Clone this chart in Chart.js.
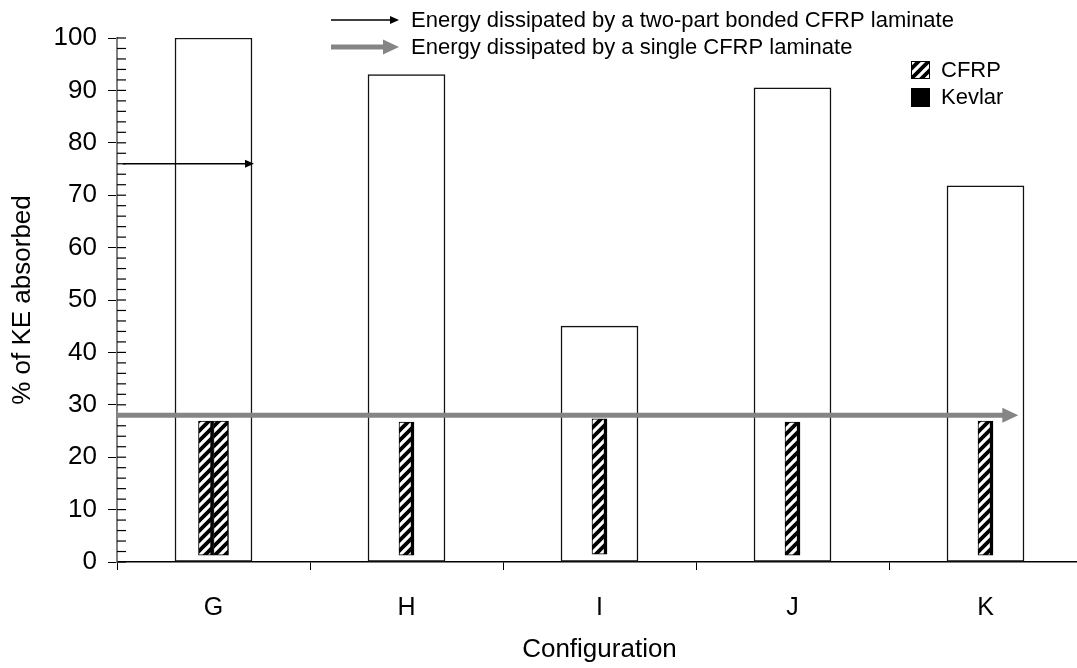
<!DOCTYPE html>
<html>
<head>
<meta charset="utf-8">
<script src="https://cdn.jsdelivr.net/npm/chart.js@4.4.1/dist/chart.umd.min.js"></script>
<style>
html, body { margin: 0; padding: 0; background: #fff; overflow: hidden; }
canvas { display: block; }
</style>
</head>
<body>
<canvas id="myChart" width="1100" height="668"></canvas>
<script>
// データ
const configurations = ["G", "H", "I", "J", "K"];
const keAbsorbed = [100, 93, 45, 90.5, 71.8];
const cfrpLow = [1.3, 1.3, 1.5, 1.3, 1.3];
const cfrpHigh = [26.9, 26.7, 27.3, 26.7, 26.9];
const cfrpSecondLow = [1.3, null, null, null, null];
const cfrpSecondHigh = [26.9, null, null, null, null];
const arrowLabels = ["Energy dissipated by a two-part bonded CFRP laminate", "Energy dissipated by a single CFRP laminate"];
const arrowLevels = [76, 28];
const arrowStart = [-0.47, -0.5];
const arrowEnd = [0.21, 4.17];
const legendLabels = ["CFRP", "Kevlar"];

const FONT = "'Liberation Sans', Arial, sans-serif";

// 斜線パターン
const makeHatch = () => {
    const c = document.createElement("canvas");
    c.width = 10; c.height = 10;
    const g = c.getContext("2d");
    g.fillStyle = "#fff";
    g.fillRect(0, 0, 10, 10);
    g.strokeStyle = "#000";
    g.lineWidth = 3.8;
    g.beginPath();
    g.moveTo(-5, 5); g.lineTo(5, -5);
    g.moveTo(0, 10); g.lineTo(10, 0);
    g.moveTo(5, 15); g.lineTo(15, 5);
    g.stroke();
    return g.createPattern(c, "repeat");
};
const hatch = makeHatch();

const drawArrow = (ctx, x0, x1, py, color, width, headLen, headHalf) => {
    ctx.strokeStyle = color;
    ctx.fillStyle = color;
    ctx.lineWidth = width;
    ctx.beginPath();
    ctx.moveTo(x0, py);
    ctx.lineTo(x1 - headLen + 1, py);
    ctx.stroke();
    ctx.beginPath();
    ctx.moveTo(x1, py);
    ctx.lineTo(x1 - headLen, py - headHalf);
    ctx.lineTo(x1 - headLen, py + headHalf);
    ctx.closePath();
    ctx.fill();
};

const arrowStyles = [
    { color: "#000", width: 1.5, head: 9, half: 4 },
    { color: "#858585", width: 5, head: 16, half: 7.5 },
];

// 矢印・副目盛り・凡例
const extras = {
    id: "extras",
    afterDraw(chart) {
        const { ctx, chartArea, scales: { x, y } } = chart;
        ctx.save();

        // 副目盛り（内側）
        ctx.strokeStyle = "#000";
        ctx.lineWidth = 1.2;
        for (let v = 0; v <= 100; v += 2) {
            const py = y.getPixelForValue(v);
            ctx.beginPath();
            ctx.moveTo(chartArea.left, py);
            ctx.lineTo(chartArea.left + 9, py);
            ctx.stroke();
        }

        // 矢印
        arrowLevels.forEach((lv, i) => {
            const s = arrowStyles[i];
            const py = y.getPixelForValue(lv);
            drawArrow(ctx, x.getPixelForValue(arrowStart[i]), x.getPixelForValue(arrowEnd[i]), py, s.color, s.width, s.head, s.half);
        });

        // 上部の凡例
        ctx.font = "22px " + FONT;
        ctx.textBaseline = "middle";
        ctx.textAlign = "left";
        const legendY = [20, 47];
        arrowLabels.forEach((label, i) => {
            const s = arrowStyles[i];
            drawArrow(ctx, 331, 399, legendY[i], s.color, s.width, s.head, s.half);
            ctx.fillStyle = "#000";
            ctx.fillText(label, 411, legendY[i] + 1);
        });

        // CFRP / Kevlar
        ctx.fillStyle = hatch;
        ctx.fillRect(911, 61, 19, 18);
        ctx.strokeStyle = "#000";
        ctx.lineWidth = 1;
        ctx.strokeRect(911.5, 61.5, 18, 17);
        ctx.fillStyle = "#000";
        ctx.fillRect(911, 88, 19, 19);
        ctx.fillText(legendLabels[0], 941, 71);
        ctx.fillText(legendLabels[1], 941, 98);

        ctx.restore();
    }
};

const ctx = document.getElementById("myChart").getContext("2d");
const chart = new Chart(ctx, {
    type: "bar",
    data: {
        labels: configurations,
        datasets: [
            {
                label: "CFRP",
                data: cfrpLow.map((lo, i) => [lo, cfrpHigh[i]]),
                backgroundColor: hatch,
                borderColor: "#000",
                borderWidth: { left: 1, right: 3.5, top: 1, bottom: 1 },
                borderSkipped: false,
                barThickness: 15,
                skipNull: true,
                grouped: true,
            },
            {
                label: "CFRP (2)",
                data: cfrpSecondLow.map((lo, i) => (lo === null ? null : [lo, cfrpSecondHigh[i]])),
                backgroundColor: hatch,
                borderColor: "#000",
                borderWidth: { left: 1, right: 1.5, top: 1, bottom: 1 },
                borderSkipped: false,
                barThickness: 15,
                skipNull: true,
                grouped: true,
            },
            {
                label: "% of KE absorbed",
                data: keAbsorbed,
                backgroundColor: "#fff",
                borderColor: "#111",
                borderWidth: 1.5,
                borderSkipped: false,
                barThickness: 77,
                grouped: false,
            },
        ],
    },
    options: {
        responsive: false,
        devicePixelRatio: 1,
        animation: false,
        layout: { padding: { top: 38, right: 18, left: 0, bottom: 0 } },
        plugins: {
            legend: { display: false },
            tooltip: { enabled: false },
        },
        scales: {
            x: {
                grid: { display: true, drawOnChartArea: false, drawTicks: true, tickLength: 8, color: "#000", offset: true },
                border: { display: true, color: "#000", width: 1.5 },
                ticks: { color: "#000", font: { family: FONT, size: 25 }, padding: 23 },
                title: { display: true, text: "Configuration", color: "#000", font: { family: FONT, size: 26 }, padding: { top: 0, bottom: 3 } },
                afterFit: (scale) => { scale.height = 106; },
            },
            y: {
                min: 0,
                max: 100,
                ticks: { stepSize: 10, color: "#000", font: { family: FONT, size: 26 }, padding: 11 },
                grid: { display: true, drawOnChartArea: false, drawTicks: true, tickLength: 9, color: "#000" },
                border: { display: true, color: "#808080", width: 2 },
                title: { display: true, text: "% of KE absorbed", color: "#000", font: { family: FONT, size: 26 }, padding: { top: 7, bottom: 0 } },
                afterFit: (scale) => { scale.width = 117; },
            },
        },
    },
    plugins: [extras],
});
</script>
</body>
</html>
